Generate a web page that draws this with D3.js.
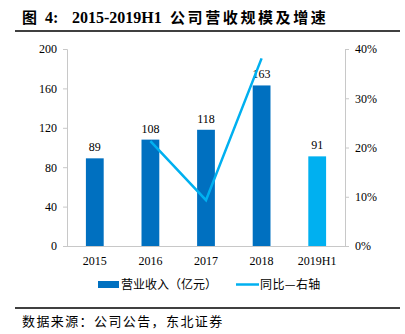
<!DOCTYPE html>
<html><head><meta charset="utf-8">
<script src="https://cdn.jsdelivr.net/npm/d3@7"></script>
<style>body{margin:0;background:#fff}svg{display:block}</style>
</head><body>
<svg id="c" width="405" height="334"></svg>
<script>
const categories = ["2015","2016","2017","2018","2019H1"];
const revenue = [89,108,118,163,91];
const growth = [null,21.3,9.3,38.1,null];
const leftTicks = [0,40,80,120,160,200];
const rightTicks = [0,10,20,30,40];
const titleParts = ["图","4:","2015-2019H1","公司营收规模及增速"];
const sourceText = "数据来源：公司公告，东北证券";
const legendLabels = ["营业收入（亿元）","同比—右轴"];

const svg = d3.select("#c");
const serif = "'Liberation Serif','Times New Roman',serif";
const cjk = "'Noto Sans CJK SC',sans-serif";
const m = {l:67, r:345, t:49, b:246};

const x = d3.scaleBand().domain(categories).range([m.l, m.r]).paddingInner(0.68).paddingOuter(0.34);
const yL = d3.scaleLinear().domain([0,200]).range([m.b, m.t]);
const yR = d3.scaleLinear().domain([0,40]).range([m.b, m.t]);

// title
const tt = svg.append("text").attr("y",23).attr("font-weight","bold").attr("font-family",serif+","+cjk);
tt.append("tspan").attr("x",22).attr("font-size",15).attr("font-family",cjk).text(titleParts[0]);
tt.append("tspan").attr("x",45).attr("font-size",16).text(titleParts[1]);
tt.append("tspan").attr("x",72).attr("font-size",16).text(titleParts[2]);
tt.append("tspan").attr("x",170).attr("font-size",15).attr("font-family",cjk).attr("letter-spacing",2.6).text(titleParts[3]);
svg.append("line").attr("x1",15).attr("x2",400).attr("y1",31).attr("y2",31).attr("stroke","#000").attr("stroke-width",1.3);

// left axis
const gL = svg.append("g").attr("transform",`translate(${m.l},0)`)
  .call(d3.axisLeft(yL).tickValues(leftTicks).tickSize(4).tickPadding(6));
gL.selectAll("path,line").attr("stroke","#c8c8c8");
gL.selectAll("text").attr("font-family",serif).attr("font-size",12).attr("fill","#000");

// right axis
const gR = svg.append("g").attr("transform",`translate(${m.r},0)`)
  .call(d3.axisRight(yR).tickValues(rightTicks).tickSize(4).tickPadding(6).tickFormat(d=>d+"%"));
gR.selectAll("path,line").attr("stroke","#c8c8c8");
gR.selectAll("text").attr("font-family",serif).attr("font-size",12).attr("fill","#000");

// bottom axis
const gB = svg.append("g").attr("transform",`translate(0,${m.b})`)
  .call(d3.axisBottom(x).tickSize(0).tickPadding(10));
gB.select("path").attr("stroke","#c8c8c8").attr("d",`M${m.l},0.5H${m.r}`);
gB.selectAll("text").attr("font-family",serif).attr("font-size",12).attr("fill","#000");

// bars
svg.selectAll("rect.bar").data(categories).enter().append("rect")
  .attr("x",d=>x(d)).attr("width",x.bandwidth())
  .attr("y",(d,i)=>yL(revenue[i])).attr("height",(d,i)=>m.b-yL(revenue[i]))
  .attr("fill",(d,i)=> i===4 ? "#00B0F0" : "#0070C0");

svg.selectAll("text.lab").data(categories).enter().append("text")
  .attr("x",d=>x(d)+x.bandwidth()/2).attr("y",(d,i)=>yL(revenue[i])-7)
  .attr("text-anchor","middle").attr("font-family",serif).attr("font-size",12).text((d,i)=>revenue[i]);

// line
const pts = categories.map((c,i)=>({c,v:growth[i]})).filter(d=>d.v!=null);
svg.append("path").datum(pts)
  .attr("d",d3.line().x(d=>x(d.c)+x.bandwidth()/2).y(d=>yR(d.v)))
  .attr("fill","none").attr("stroke","#00B0F0").attr("stroke-width",2.5);

// legend
svg.append("rect").attr("x",98).attr("y",281).attr("width",21).attr("height",7).attr("fill","#0070C0");
svg.append("text").attr("x",121).attr("y",289).attr("font-family",cjk).attr("font-size",12).text(legendLabels[0]);
svg.append("line").attr("x1",236).attr("x2",259).attr("y1",284.5).attr("y2",284.5).attr("stroke","#00B0F0").attr("stroke-width",2.5);
svg.append("text").attr("x",260).attr("y",289).attr("font-family",cjk).attr("font-size",12).attr("letter-spacing",0.4).text(legendLabels[1]);

// source
svg.append("line").attr("x1",15).attr("x2",400).attr("y1",308).attr("y2",308).attr("stroke","#000").attr("stroke-width",1.3);
svg.append("text").attr("x",22).attr("y",326).attr("font-family",cjk).attr("font-size",13).attr("letter-spacing",1.4).text(sourceText);
</script>
</body></html>
